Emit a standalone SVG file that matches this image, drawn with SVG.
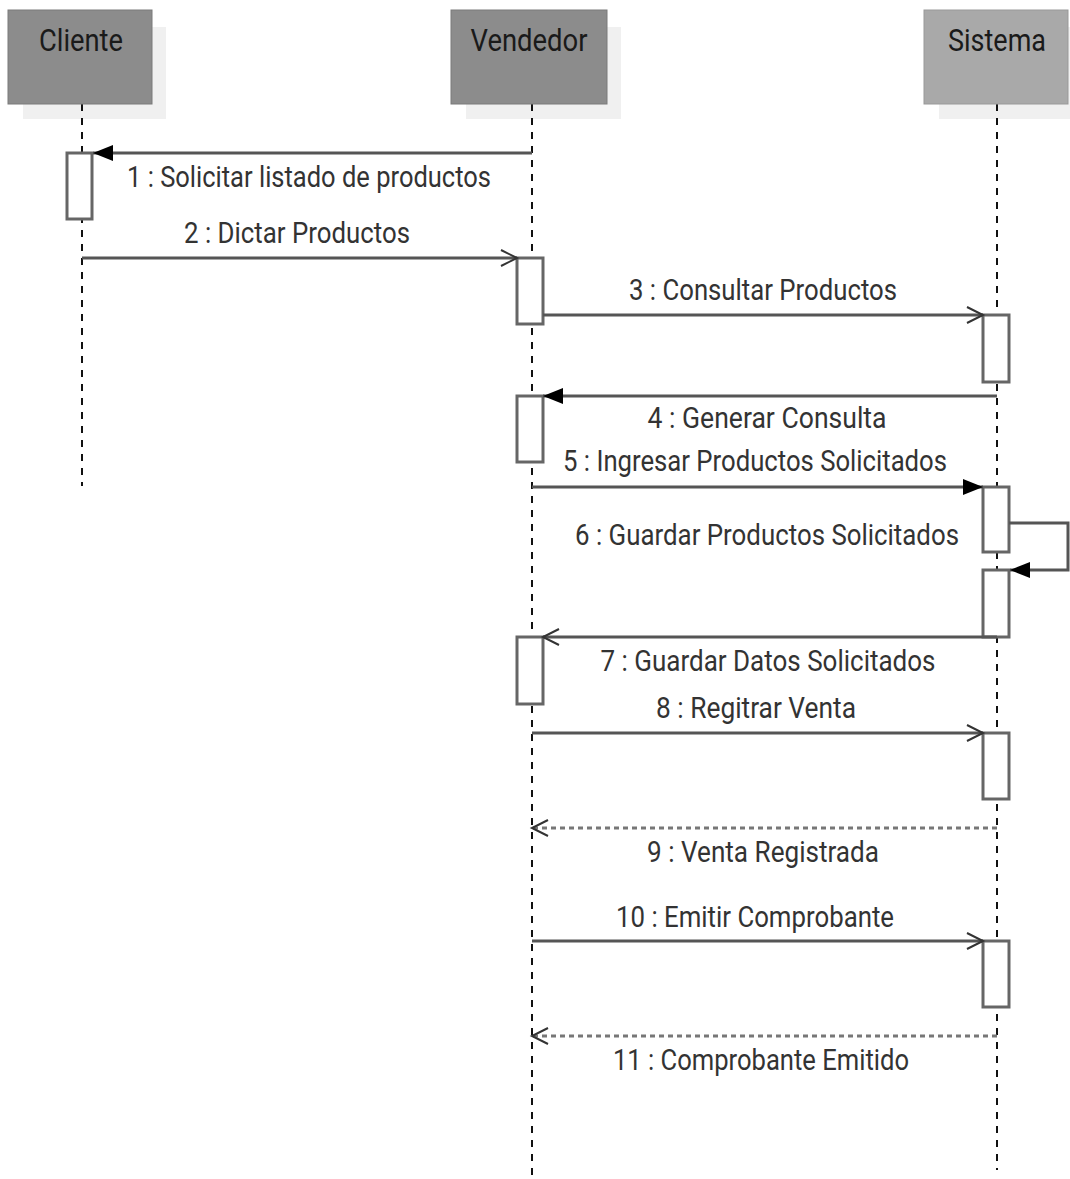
<svg xmlns="http://www.w3.org/2000/svg" width="1070" height="1179" viewBox="0 0 1070 1179">
<style>
.hdr{font-family:Roboto,"Liberation Sans",sans-serif;font-size:31px;fill:#1a1a1a;text-anchor:middle}
.lbl{font-family:Roboto,"Liberation Sans",sans-serif;font-size:30px;fill:#333;text-anchor:middle}
.shadow{fill:#f0f0f0}
.life{stroke:#111;stroke-width:2;stroke-dasharray:7 7;fill:none}
.act{fill:#fff;stroke:#666;stroke-width:3}
.msg{stroke:#555;stroke-width:3;fill:none}
.ret{stroke:#777;stroke-width:3;fill:none;stroke-dasharray:5 4}
</style>
<defs>
<marker id="filled" markerUnits="userSpaceOnUse" markerWidth="22" markerHeight="18" refX="20" refY="9" orient="auto">
<path d="M0,1 L20,9 L0,17 z" fill="#000"/>
</marker>
<marker id="open" markerUnits="userSpaceOnUse" markerWidth="20" markerHeight="20" refX="17" refY="10" orient="auto">
<path d="M1,2 L17,10 L1,18" fill="none" stroke="#333" stroke-width="2"/>
</marker>
</defs>

<g id="shadows">
<rect class="shadow" x="23" y="27" width="143" height="92"/>
<rect class="shadow" x="466" y="27" width="155" height="92"/>
<rect class="shadow" x="939" y="27" width="131" height="92"/>
</g>

<g id="lifelines">
<line class="life" x1="82" y1="104" x2="82" y2="486"/>
<line class="life" x1="532" y1="104" x2="532" y2="1179"/>
<line class="life" x1="997" y1="104" x2="997" y2="1170"/>
</g>

<g id="cliente">
<rect x="8" y="10" width="144" height="94" fill="#8c8c8c" stroke="#7a7a7a" stroke-width="1"/>
<text class="hdr" x="81" y="51" textLength="84" lengthAdjust="spacingAndGlyphs">Cliente</text>
</g>
<g id="vendedor">
<rect x="451" y="10" width="156" height="94" fill="#8c8c8c" stroke="#7a7a7a" stroke-width="1"/>
<text class="hdr" x="529" y="51" textLength="117" lengthAdjust="spacingAndGlyphs">Vendedor</text>
</g>
<g id="sistema">
<rect x="924" y="10" width="144" height="94" fill="#a9a9a9" stroke="#999" stroke-width="1"/>
<text class="hdr" x="997" y="51" textLength="98" lengthAdjust="spacingAndGlyphs">Sistema</text>
</g>

<g id="activations">
<rect class="act" x="67" y="153" width="25" height="66"/>
<rect class="act" x="517" y="258" width="26" height="66"/>
<rect class="act" x="983" y="315" width="26" height="67"/>
<rect class="act" x="517" y="396" width="26" height="66"/>
<rect class="act" x="983" y="487" width="26" height="65"/>
<rect class="act" x="983" y="570" width="26" height="67"/>
<rect class="act" x="517" y="637" width="26" height="67"/>
<rect class="act" x="983" y="733" width="26" height="66"/>
<rect class="act" x="983" y="941" width="26" height="66"/>
</g>

<g id="connectors">
<line class="msg" x1="532" y1="153" x2="93" y2="153" marker-end="url(#filled)"/>
<line class="msg" x1="82" y1="258" x2="517" y2="258" marker-end="url(#open)"/>
<line class="msg" x1="543" y1="315" x2="983" y2="315" marker-end="url(#open)"/>
<line class="msg" x1="997" y1="396" x2="543" y2="396" marker-end="url(#filled)"/>
<line class="msg" x1="532" y1="487" x2="983" y2="487" marker-end="url(#filled)"/>
<polyline class="msg" points="1009,523 1068,523 1068,570 1010,570" marker-end="url(#filled)"/>
<line class="msg" x1="997" y1="637" x2="543" y2="637" marker-end="url(#open)"/>
<line class="msg" x1="532" y1="733" x2="983" y2="733" marker-end="url(#open)"/>
<line class="ret" x1="997" y1="828" x2="532" y2="828" marker-end="url(#open)"/>
<line class="msg" x1="532" y1="941" x2="983" y2="941" marker-end="url(#open)"/>
<line class="ret" x1="997" y1="1036" x2="532" y2="1036" marker-end="url(#open)"/>
</g>

<g id="labels">
<text class="lbl" x="309" y="187" textLength="364" lengthAdjust="spacingAndGlyphs">1 : Solicitar listado de productos</text>
<text class="lbl" x="297" y="243" textLength="226" lengthAdjust="spacingAndGlyphs">2 : Dictar Productos</text>
<text class="lbl" x="763" y="300" textLength="268" lengthAdjust="spacingAndGlyphs">3 : Consultar Productos</text>
<text class="lbl" x="767" y="428" textLength="239" lengthAdjust="spacingAndGlyphs">4 : Generar Consulta</text>
<text class="lbl" x="755" y="471" textLength="384" lengthAdjust="spacingAndGlyphs">5 : Ingresar Productos Solicitados</text>
<text class="lbl" x="767" y="545" textLength="384" lengthAdjust="spacingAndGlyphs">6 : Guardar Productos Solicitados</text>
<text class="lbl" x="768" y="671" textLength="335" lengthAdjust="spacingAndGlyphs">7 : Guardar Datos Solicitados</text>
<text class="lbl" x="756" y="718" textLength="200" lengthAdjust="spacingAndGlyphs">8 : Regitrar Venta</text>
<text class="lbl" x="763" y="862" textLength="232" lengthAdjust="spacingAndGlyphs">9 : Venta Registrada</text>
<text class="lbl" x="755" y="927" textLength="278" lengthAdjust="spacingAndGlyphs">10 : Emitir Comprobante</text>
<text class="lbl" x="761" y="1070" textLength="296" lengthAdjust="spacingAndGlyphs">11 : Comprobante Emitido</text>
</g>
</svg>
